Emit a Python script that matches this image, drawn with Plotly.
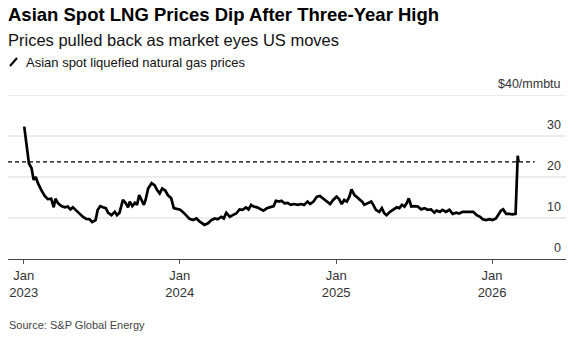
import plotly.graph_objects as go

# Asian spot LNG (JKM-style) price readings, $/mmbtu
dates = [
    "2023-01-02", "2023-01-06", "2023-01-09", "2023-01-13", "2023-01-19", "2023-01-24",
    "2023-01-29", "2023-02-03", "2023-02-11", "2023-02-19", "2023-02-26", "2023-03-06",
    "2023-03-12", "2023-03-16", "2023-03-22", "2023-03-30", "2023-04-07", "2023-04-14",
    "2023-04-20", "2023-04-26", "2023-05-04", "2023-05-12", "2023-05-19", "2023-05-27",
    "2023-06-04", "2023-06-10", "2023-06-18", "2023-06-23", "2023-06-29", "2023-07-05",
    "2023-07-12", "2023-07-17", "2023-07-25", "2023-08-02", "2023-08-07", "2023-08-13",
    "2023-08-21", "2023-08-27", "2023-09-02", "2023-09-06", "2023-09-12", "2023-09-18",
    "2023-09-23", "2023-09-28", "2023-10-03", "2023-10-09", "2023-10-13", "2023-10-19",
    "2023-10-27", "2023-11-03", "2023-11-09", "2023-11-15", "2023-11-21", "2023-11-28",
    "2023-12-04", "2023-12-12", "2023-12-18", "2023-12-26", "2024-01-02", "2024-01-10",
    "2024-01-18", "2024-01-24", "2024-02-01", "2024-02-09", "2024-02-17", "2024-02-28",
    "2024-03-07", "2024-03-15", "2024-03-23", "2024-03-30", "2024-04-07", "2024-04-13",
    "2024-04-19", "2024-04-27", "2024-05-04", "2024-05-12", "2024-05-20", "2024-05-27",
    "2024-06-04", "2024-06-10", "2024-06-16", "2024-06-22", "2024-06-30", "2024-07-08",
    "2024-07-15", "2024-07-23", "2024-07-31", "2024-08-08", "2024-08-13", "2024-08-21",
    "2024-08-26", "2024-09-02", "2024-09-09", "2024-09-17", "2024-09-25", "2024-10-03",
    "2024-10-11", "2024-10-18", "2024-10-26", "2024-11-01", "2024-11-09", "2024-11-17",
    "2024-11-24", "2024-12-02", "2024-12-10", "2024-12-18", "2024-12-25", "2025-01-02",
    "2025-01-08", "2025-01-14", "2025-01-20", "2025-01-26", "2025-02-01", "2025-02-06",
    "2025-02-13", "2025-02-17", "2025-02-23", "2025-03-03", "2025-03-08", "2025-03-16",
    "2025-03-24", "2025-03-29", "2025-04-04", "2025-04-12", "2025-04-18", "2025-04-24",
    "2025-04-29", "2025-05-07", "2025-05-15", "2025-05-23", "2025-05-29", "2025-06-04",
    "2025-06-10", "2025-06-15", "2025-06-20", "2025-06-26", "2025-07-04", "2025-07-11",
    "2025-07-19", "2025-07-27", "2025-08-03", "2025-08-11", "2025-08-19", "2025-08-24",
    "2025-09-01", "2025-09-07", "2025-09-15", "2025-09-23", "2025-10-01", "2025-10-09",
    "2025-10-16", "2025-10-24", "2025-11-01", "2025-11-09", "2025-11-18", "2025-11-26",
    "2025-12-04", "2025-12-10", "2025-12-18", "2025-12-26", "2026-01-02", "2026-01-10",
    "2026-01-16", "2026-01-22", "2026-01-27", "2026-02-03", "2026-02-10", "2026-02-18",
    "2026-02-25", "2026-03-02", "2026-03-04",
]
prices = [
    32.3, 29.0, 25.8, 23.3, 22.2, 19.3,
    20.0, 18.5, 16.8, 15.4, 14.6, 14.7,
    12.6, 14.7, 13.6, 12.9, 12.6, 12.8,
    12.1, 12.6, 11.8, 11.0, 10.3, 9.8,
    9.7, 9.0, 9.5, 12.0, 12.9, 12.6,
    12.4, 11.3, 10.7, 11.5, 10.7, 11.3,
    14.4, 13.7, 12.6, 14.0, 12.9, 13.7,
    13.2, 15.6, 14.4, 13.2, 14.4, 17.2,
    18.5, 18.0, 16.8, 16.0, 17.2, 16.7,
    15.6, 14.8, 12.4, 12.1, 12.0, 11.3,
    10.3, 9.8, 9.5, 9.9, 9.1, 8.3,
    8.7, 9.5, 9.9, 9.7, 10.3, 9.9,
    11.3, 10.3, 10.7, 11.1, 12.1, 12.0,
    12.6, 12.1, 13.2, 12.8, 12.6, 12.1,
    11.8, 12.4, 12.6, 12.9, 14.2, 14.0,
    14.2, 13.6, 13.7, 13.2, 13.4, 13.2,
    13.4, 13.2, 14.0, 13.4, 14.0, 15.2,
    15.4, 14.8, 14.0, 13.4, 14.4, 15.2,
    14.6, 13.4, 14.4, 14.0, 15.2, 17.0,
    15.6, 15.2, 14.6, 14.0, 13.2, 13.7,
    14.0, 13.2, 12.0, 11.5, 12.4, 11.1,
    10.7, 11.5, 12.0, 12.6, 12.4, 13.2,
    12.8, 13.6, 14.8, 12.8, 12.9, 12.8,
    12.1, 12.4, 12.0, 12.1, 11.3, 11.8,
    11.5, 12.0, 11.5, 12.0, 11.0, 11.3,
    11.1, 11.5, 11.5, 11.5, 11.5, 10.7,
    10.3, 9.7, 9.5, 9.7, 9.5, 9.9,
    10.7, 11.8, 12.1, 11.0, 11.0, 10.9,
    11.0, 25.2, 23.7,
]

x_tick_dates = ["2023-01-01", "2024-01-01", "2025-01-01", "2026-01-01"]
x_tick_text = ["Jan<br>2023", "Jan<br>2024", "Jan<br>2025", "Jan<br>2026"]
y_grid_values = [10, 20, 30, 40]
y_label_text = ["10", "20", "30", "$40/mmbtu"]

title = "Asian Spot LNG Prices Dip After Three-Year High"
subtitle = "Prices pulled back as market eyes US moves"
series_name = "Asian spot liquefied natural gas prices"
source = "Source: S&P Global Energy"

W, H = 576, 339
L, R, T, B = 8, 10, 95, 80
plot_w = W - L - R
plot_h = H - T - B
FONT = "Liberation Sans, Arial, sans-serif"


def px_x(px):
    return (px - L) / plot_w


def px_y(py):
    return (H - B - py) / plot_h


fig = go.Figure()
fig.add_trace(go.Scatter(
    x=dates, y=prices, mode="lines", name=series_name,
    line=dict(color="#000000", width=2.7), hoverinfo="x+y",
))

shapes = []
# horizontal gridlines (the zero line is the axis itself)
for v in y_grid_values:
    shapes.append(dict(type="line", xref="paper", yref="y", x0=0, x1=1, y0=v, y1=v,
                       line=dict(color="#d9d9d9", width=1), layer="below"))
# dashed reference at the latest price
shapes.append(dict(type="line", xref="x", yref="y", x0="2022-11-25", x1="2026-04-11",
                   y0=prices[-1], y1=prices[-1],
                   line=dict(color="#000000", width=1.3, dash="4px,3px")))
# slash legend glyph
shapes.append(dict(type="line", xref="paper", yref="paper",
                   x0=px_x(10), x1=px_x(17), y0=px_y(66), y1=px_y(58),
                   line=dict(color="#000000", width=2)))

annotations = [
    dict(text="<b>" + title + "</b>", x=px_x(6), y=px_y(14), xanchor="left", yanchor="middle",
         font=dict(size=18.5, color="#000000", family=FONT)),
    dict(text=subtitle, x=px_x(6), y=px_y(40), xanchor="left", yanchor="middle",
         font=dict(size=16.5, color="#111111", family=FONT)),
    dict(text=series_name, x=px_x(24), y=px_y(62), xanchor="left", yanchor="middle",
         font=dict(size=13, color="#111111", family=FONT)),
    dict(text=source, x=px_x(7), y=px_y(325), xanchor="left", yanchor="middle",
         font=dict(size=11, color="#444444", family=FONT)),
]
for v, t in zip([0] + y_grid_values, ["0"] + y_label_text):
    annotations.append(dict(text=t, xref="paper", yref="y", x=1, y=v, xanchor="right",
                            yanchor="middle", xshift=-3, yshift=11,
                            font=dict(size=12.5, color="#333333", family=FONT)))
for a in annotations:
    a.setdefault("xref", "paper")
    a.setdefault("yref", "paper")
    a["showarrow"] = False

fig.update_layout(
    width=W, height=H,
    margin=dict(l=L, r=R, t=T, b=B),
    paper_bgcolor="#ffffff", plot_bgcolor="#ffffff",
    showlegend=False,
    shapes=shapes,
    annotations=annotations,
    font=dict(family=FONT),
    xaxis=dict(
        type="date", range=["2022-11-25", "2026-06-23"],
        tickvals=x_tick_dates, ticktext=x_tick_text,
        ticks="outside", ticklen=4, tickwidth=1, tickcolor="#555555",
        showline=True, linecolor="#444444", linewidth=1,
        showgrid=False, zeroline=False,
        tickfont=dict(size=13, color="#333333", family=FONT),
    ),
    yaxis=dict(
        range=[0, 40], showgrid=False, zeroline=False, showticklabels=False,
        showline=False, fixedrange=True,
    ),
)

fig.write_html("out.html")
